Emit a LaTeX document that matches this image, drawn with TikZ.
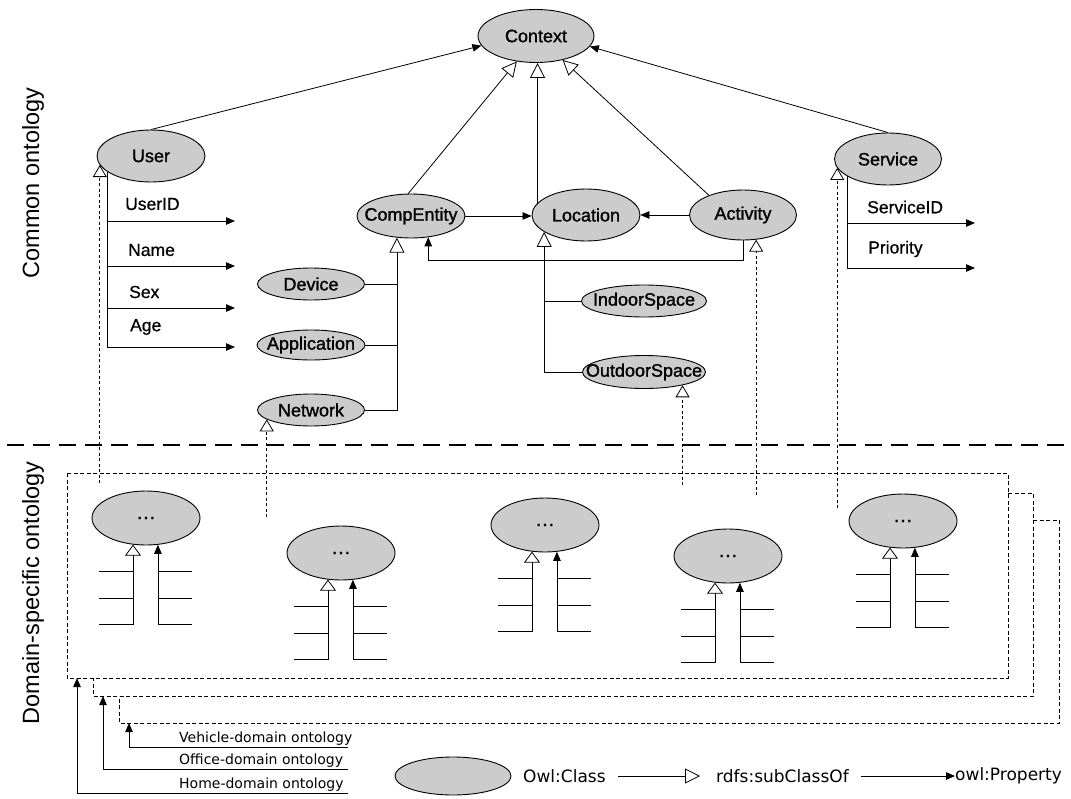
\documentclass[tikz,border=0pt]{standalone}
\usepackage{fontspec}
\setmainfont{Liberation Sans}
\newfontfamily\clsfont[FakeBold=1.3]{Liberation Sans}
\newfontfamily\prfont[FakeBold=0.6]{Liberation Sans}
\newfontfamily\dvfont{DejaVu Sans}
\usetikzlibrary{shapes.geometric,arrows.meta,calc}
\begin{document}
\begin{tikzpicture}[x=1pt,y=-1pt,
  ctext/.style={inner sep=0pt,font=\clsfont\fontsize{18}{20}\selectfont},
  cls/.style={ellipse,draw,line width=0.9pt,fill=gray!40,inner sep=0pt,label={[ctext]center:#1}},
  cls/.default={},
  sz/.style 2 args={minimum width=#1pt,minimum height=#2pt},
  prop/.style={line width=0.8pt,-{Triangle[length=9pt,width=7.5pt]}},
  sub/.style={line width=0.8pt,-{Triangle[open,length=15pt,width=15pt,fill=white]}},
  dsub/.style={line width=0.8pt,dash pattern=on 3pt off 2.5pt,-{Triangle[open,length=12pt,width=14pt,fill=white]}},
  domsub/.style={line width=0.8pt,-{Triangle[open,length=11pt,width=16pt,fill=white]}},
  plain/.style={line width=0.8pt},
  dbox/.style={line width=0.8pt,dash pattern=on 4pt off 2.5pt},
  bigdash/.style={line width=2.2pt,dash pattern=on 17pt off 9pt},
  plbl/.style={anchor=west,inner sep=0pt,font=\prfont\fontsize{17.5}{20}\selectfont},
  dlbl/.style={anchor=south west,inner sep=1pt,font=\dvfont\fontsize{14}{16}\selectfont},
  lgd/.style={anchor=west,inner sep=0pt,font=\dvfont\fontsize{17}{19}\selectfont},
  side/.style={rotate=90,inner sep=0pt,font=\fontsize{23.5}{26}\selectfont},
]
\useasboundingbox[fill=white] (0,0) rectangle (1071,798);

% side labels
\node[side] (co) at (33,183) {Common ontology};
\node[side] (dso) at (33,593) {Domain-specific ontology};

% common ontology classes
\node[cls=Context,sz={116}{53}] (Context) at (536,36) {};
\node[cls=User,sz={108}{52}] (User) at (151,156) {};
\node[cls=CompEntity,sz={108}{44}] (CompEntity) at (411,216) {};
\node[cls=Location,sz={108}{52}] (Location) at (586,215) {};
\node[cls=Activity,sz={107}{50}] (Activity) at (743,215) {};
\node[cls=Service,sz={107}{52}] (Service) at (888,159) {};
\node[cls=Device,sz={107}{32}] (Device) at (311,284) {};
\node[cls=Application,sz={108}{30}] (Application) at (311,345) {};
\node[cls=Network,sz={107}{32}] (Network) at (311,410) {};
\node[cls=IndoorSpace,sz={125}{32}] (IndoorSpace) at (644,301) {};
\node[cls=OutdoorSpace,sz={123}{33}] (OutdoorSpace) at (644,372) {};

% links to Context
\draw[prop] (User.north) -- (Context.190);
\draw[prop] (Service.north) -- (Context.-11);
\draw[sub] (CompEntity.97) -- (Context.233);
\draw[sub] (Location.166) -- (Location.166 |- Context.south);
\draw[sub] (Activity.150) -- (Context.-42);

% middle relations
\draw[prop] (CompEntity.east) -- (CompEntity.east -| Location.west);
\draw[prop] (Activity.west) -- (Location.east);
\draw[prop] (Activity.south) -- ++(0,20) -| (CompEntity.-51);

% CompEntity children
\coordinate (cj) at (397,410);
\draw[plain] (Device.east) -- (Device.east -| cj);
\draw[plain] (Application.east) -- (Application.east -| cj);
\draw[sub] (Network.east) -| (CompEntity.237);

% Location children
\draw[plain] (IndoorSpace.west) -- (IndoorSpace.west -| Location.202);
\draw[sub] (OutdoorSpace.west) -| (Location.202);

% User properties
\coordinate (uid) at (235,221);
\coordinate (unm) at (235,266);
\coordinate (usx) at (235,308);
\coordinate (uag) at (235,347);
\draw[plain] (User.200) -- (User.200 |- uag);
\foreach \p in {uid,unm,usx,uag} \draw[prop] (User.200 |- \p) -- (\p);
\node[plbl] (tuid) at (125,204) {UserID};
\node[plbl] (tunm) at (128,250) {Name};
\node[plbl] (tusx) at (129,292) {Sex};
\node[plbl] (tuag) at (130,327) {Age};

% Service properties
\coordinate (sid) at (975,223);
\coordinate (spr) at (975,268);
\draw[plain] (Service.203) -- (Service.203 |- spr);
\foreach \p in {sid,spr} \draw[prop] (Service.203 |- \p) -- (\p);
\node[plbl] (tsid) at (867,207) {ServiceID};
\node[plbl] (tspr) at (868,249) {Priority};

% separator
\coordinate (bd1) at (7,445);
\coordinate (bd2) at (1071,445);
\draw[bigdash] (bd1) -- (bd2);

% domain boxes
\draw[dbox] (67,473) rectangle (1008,678);
\draw[dbox] (1008,493) -- (1033,493) -- (1033,696) -- (93,696) -- (93,678);
\draw[dbox] (1033,520) -- (1059,520) -- (1059,723) -- (119,723) -- (119,696);

% dashed subclass links from domain ontology
\coordinate (eU) at (0,483);
\coordinate (eN) at (0,517);
\coordinate (eO) at (0,485);
\coordinate (eA) at (0,495);
\coordinate (eS) at (0,508);
\draw[dsub] (User.190 |- eU) -- (User.190);
\draw[dsub] (Network.192 |- eN) -- (Network.192);
\draw[dsub] (OutdoorSpace.-19 |- eO) -- (OutdoorSpace.-19);
\draw[dsub] (Activity.-62 |- eA) -- (Activity.-62);
\draw[dsub] (Service.190 |- eS) -- (Service.190);

% domain classes
\foreach \n/\cx/\cy in {d1/146/518,d2/341/553,d3/545/525,d4/728/556,d5/903/521}{
  \node[cls={\fontsize{14}{14}\selectfont\textbf{.\hspace{2.5pt}.\hspace{2.5pt}.}},sz={108}{54}] (\n) at (\cx,\cy) {};
  \draw[domsub] ([yshift=-80pt]\n.244) -- (\n.244);
  \draw[prop] ([yshift=-80pt]\n.294) -- (\n.294);
  \foreach \k in {27pt,54pt,80pt}{
    \draw[plain] ([yshift=-\k]\n.244) -- ++(-34,0);
    \draw[plain] ([yshift=-\k]\n.294) -- ++(34,0);
  }
}

% domain ontology labels
\node[dlbl] (veh) at (178,747) {Vehicle-domain ontology};
\node[dlbl] (off) at (178,769) {Office-domain ontology};
\node[dlbl] (hom) at (178,793) {Home-domain ontology};
\coordinate (vE) at (348,747);
\coordinate (oE) at (348,769);
\coordinate (hE) at (348,793);
\coordinate (vA) at (129,723);
\coordinate (oA) at (103,696);
\coordinate (hA) at (77,678);
\draw[prop] (vE) -| (vA);
\draw[prop] (oE) -| (oA);
\draw[prop] (hE) -| (hA);

% legend
\node[cls,sz={116}{38}] (lg) at (453,776) {};
\node[lgd] (lgc) at (523,776) {Owl:Class};
\node[lgd] (lgs) at (716,776) {rdfs:subClassOf};
\node[lgd] (lgp) at (955,776) {owl:Property};
\draw[sub] ([xshift=12pt]lgc.east) -- ([xshift=-16pt]lgs.west);
\draw[prop] ([xshift=12pt]lgs.east) -- (lgp.west);
\end{tikzpicture}
\end{document}
